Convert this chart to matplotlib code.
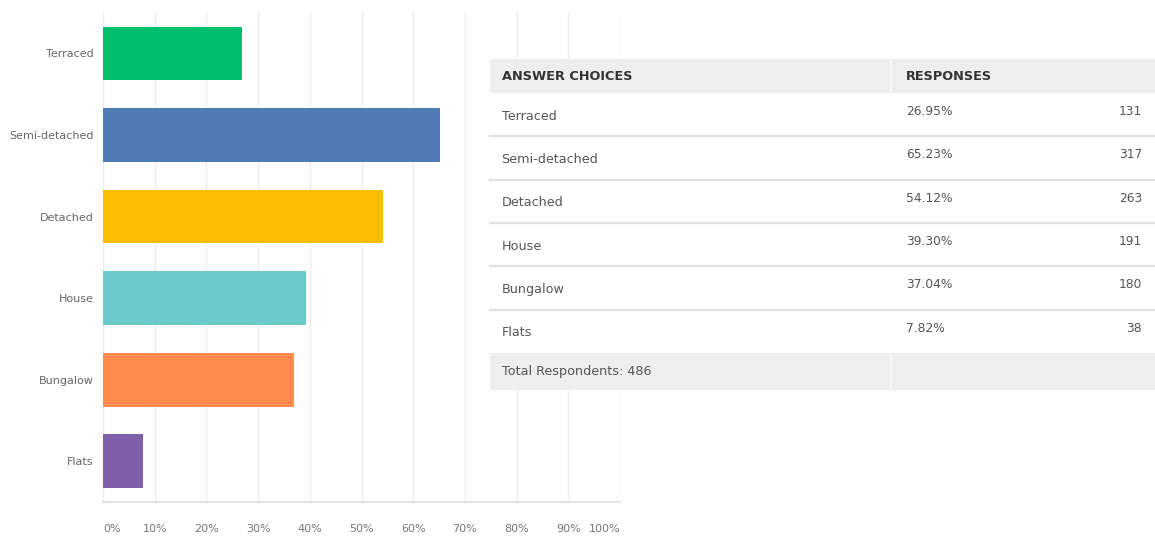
import matplotlib
matplotlib.use("Agg")
import matplotlib.pyplot as plt
from matplotlib.patches import Rectangle

categories = ["Terraced", "Semi-detached", "Detached", "House", "Bungalow", "Flats"]
percentages = [26.95, 65.23, 54.12, 39.30, 37.04, 7.82]
counts = [131, 317, 263, 191, 180, 38]
total_respondents = 486
bar_colors = ["#00BF6F", "#507CB6", "#F9BE00", "#6BC8CD", "#FF8B4F", "#7F5FA9"]
x_ticks = [0, 10, 20, 30, 40, 50, 60, 70, 80, 90, 100]
x_tick_labels = [f"{t}%" for t in x_ticks]

W, H = 1155, 539
fig = plt.figure(figsize=(W / 100, H / 100), dpi=100)
fig.patch.set_facecolor("white")

# ---- bar chart ----
ax = fig.add_axes([103 / W, 1 - 502 / H, 517 / W, (502 - 12.7) / H])
ypos = list(range(len(categories)))
ax.barh(ypos, percentages, height=0.66, color=bar_colors, zorder=2)
ax.set_xlim(0, 100)
ax.set_ylim(len(categories) - 0.5, -0.5)
ax.set_xticks(x_ticks)
ax.set_xticklabels(x_tick_labels)
ax.set_yticks(ypos)
ax.set_yticklabels(categories)
ax.tick_params(axis="x", length=0, pad=16, labelsize=8, labelcolor="#777777")
ax.tick_params(axis="y", length=0, pad=7, labelsize=8, labelcolor="#666666")
xl = ax.get_xticklabels()
xl[0].set_ha("left")
xl[-1].set_ha("right")
ax.grid(axis="x", color="#ececec", linewidth=1, zorder=0)
for s in ["top", "right", "left"]:
    ax.spines[s].set_visible(False)
ax.spines["bottom"].set_color("#dddddd")
ax.spines["bottom"].set_linewidth(1.2)

# ---- table overlay ----
tx = fig.add_axes([0, 0, 1, 1], facecolor="none")
tx.set_xlim(0, W)
tx.set_ylim(H, 0)
tx.axis("off")

left, right, split = 489.5, 1155, 891
head_top, head_bot = 59, 93
row_h = 43.3
n = len(categories)
total_top = head_bot + n * row_h
total_bot = total_top + 37

tx.add_patch(Rectangle((left, head_top), right - left, total_bot - head_top,
                       facecolor="white", edgecolor="none", zorder=1))
# header band
tx.add_patch(Rectangle((left, head_top), right - left, head_bot - head_top,
                       facecolor="#eeeeee", edgecolor="none", zorder=2))
# total band
tx.add_patch(Rectangle((left, total_top), right - left, total_bot - total_top,
                       facecolor="#eeeeee", edgecolor="none", zorder=2))
tx.plot([split, split], [head_top, head_bot], color="#f7f7f7", lw=1.5, zorder=3)
tx.plot([split, split], [total_top, total_bot], color="#f7f7f7", lw=1.5, zorder=3)

for i in range(1, n):
    y = head_bot + i * row_h
    tx.plot([left, right], [y, y], color="#e0e0e0", lw=1.6, zorder=3)

font_lbl = dict(family="DejaVu Sans", color="#555555", fontsize=9.2)
tx.text(left + 12, (head_top + head_bot) / 2 + 1, "ANSWER CHOICES", fontsize=9.3,
        fontweight="bold", color="#333333", va="center", ha="left", zorder=4)
tx.text(split + 15, (head_top + head_bot) / 2 + 1, "RESPONSES", fontsize=9.3,
        fontweight="bold", color="#333333", va="center", ha="left", zorder=4)

for i, (c, p, k) in enumerate(zip(categories, percentages, counts)):
    top = head_bot + i * row_h
    cy = top + row_h / 2
    tx.text(left + 12, cy + 1.5, c, va="center", ha="left", zorder=4, **font_lbl)
    tx.text(split + 15, cy - 3, f"{p:.2f}%", va="center", ha="left", zorder=4,
            color="#555555", fontsize=8.8)
    tx.text(1142, cy - 3, str(k), va="center", ha="right", zorder=4,
            color="#555555", fontsize=8.8)

tx.text(left + 12, (total_top + total_bot) / 2, f"Total Respondents: {total_respondents}",
        va="center", ha="left", zorder=4, **font_lbl)

fig.savefig("out.png", dpi=100, facecolor="white")
